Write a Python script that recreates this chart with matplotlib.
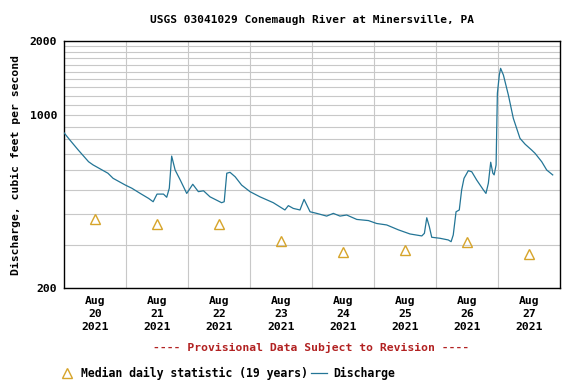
import numpy as np
import pandas as pd
import matplotlib
matplotlib.use("Agg")
import matplotlib.pyplot as plt

# Discharge (cfs)
flow_times = [
    "2021-08-20 00:00", "2021-08-20 02:15", "2021-08-20 05:30", "2021-08-20 09:30",
    "2021-08-20 11:15", "2021-08-20 17:00", "2021-08-20 19:00", "2021-08-20 23:45",
    "2021-08-21 02:15", "2021-08-21 05:30", "2021-08-21 08:45", "2021-08-21 10:30",
    "2021-08-21 12:00", "2021-08-21 14:30", "2021-08-21 15:45", "2021-08-21 16:45",
    "2021-08-21 17:40", "2021-08-21 19:00", "2021-08-21 21:00", "2021-08-21 23:30",
    "2021-08-22 01:50", "2021-08-22 04:00", "2021-08-22 06:00", "2021-08-22 08:30",
    "2021-08-22 13:00", "2021-08-22 14:00", "2021-08-22 15:00", "2021-08-22 16:15",
    "2021-08-22 18:15", "2021-08-22 20:45", "2021-08-23 00:00", "2021-08-23 03:50",
    "2021-08-23 09:00", "2021-08-23 13:30", "2021-08-23 14:50", "2021-08-23 16:45",
    "2021-08-23 19:20", "2021-08-23 20:55", "2021-08-23 23:15", "2021-08-24 01:50",
    "2021-08-24 05:40", "2021-08-24 08:15", "2021-08-24 10:50", "2021-08-24 13:25",
    "2021-08-24 17:20", "2021-08-24 21:50", "2021-08-25 01:00", "2021-08-25 04:55",
    "2021-08-25 09:25", "2021-08-25 13:55", "2021-08-25 18:30", "2021-08-25 19:30",
    "2021-08-25 20:25", "2021-08-25 21:25", "2021-08-25 22:20", "2021-08-26 01:30",
    "2021-08-26 04:45", "2021-08-26 05:50", "2021-08-26 06:40", "2021-08-26 07:45",
    "2021-08-26 09:00", "2021-08-26 09:55", "2021-08-26 10:50", "2021-08-26 12:30",
    "2021-08-26 13:50", "2021-08-26 15:45", "2021-08-26 18:20", "2021-08-26 19:20",
    "2021-08-26 20:15", "2021-08-26 21:10", "2021-08-26 22:00", "2021-08-26 22:30",
    "2021-08-26 23:15", "2021-08-26 23:45", "2021-08-27 00:30", "2021-08-27 01:00",
    "2021-08-27 02:05", "2021-08-27 04:00", "2021-08-27 05:55", "2021-08-27 08:30",
    "2021-08-27 10:30", "2021-08-27 13:00", "2021-08-27 14:20", "2021-08-27 16:55",
    "2021-08-27 18:50", "2021-08-27 21:10",
]
flow_cfs = [
    850, 795, 724, 649, 630, 583, 556, 522,
    507, 483, 461, 447, 480, 480, 466, 507,
    684, 601, 547, 483, 526, 491, 495, 468,
    443, 447, 583, 588, 564, 522, 491, 468,
    443, 414, 431, 420, 414, 457, 407, 401,
    391, 401, 391, 395, 379, 375, 365, 360,
    344, 331, 325, 333, 385, 354, 321, 318,
    313, 308, 328, 407, 414, 499, 556, 597,
    591, 547, 499, 483, 531, 646, 583, 574,
    630, 1228, 1456, 1550, 1456, 1209, 973, 807,
    764, 724, 702, 649, 601, 574,
]

# Median daily statistic (19 years), plotted at noon
median_days = ["2021-08-20", "2021-08-21", "2021-08-22", "2021-08-23",
               "2021-08-24", "2021-08-25", "2021-08-26", "2021-08-27"]
median_cfs = [381, 363, 363, 310, 280, 285, 307, 275]

t = pd.to_datetime(flow_times)
days = pd.to_datetime(median_days)
noon = days + pd.Timedelta(hours=12)

mono = "DejaVu Sans Mono"
fig = plt.figure(figsize=(5.81, 3.90), dpi=100)
ax = fig.add_axes([0.1102, 0.2615, 0.8537, 0.6334])

ax.plot(t, flow_cfs, color="#237596", lw=0.9, label="Discharge", zorder=3)
ax.plot(noon, median_cfs, ls="none", marker="^", ms=7.5, mfc="none",
        mec="#d6a42a", mew=1.0, label="Median daily statistic (19 years)", zorder=3)

ax.set_yscale("log")
ax.set_ylim(200, 2000)
ax.set_yticks([200, 1000, 2000])
ax.set_yticklabels(["200", "1000", "2000"])
ax.set_yticks(np.arange(300, 2000, 100), minor=True)
ax.yaxis.set_minor_formatter(plt.NullFormatter())

ax.set_xlim(days[0], days[-1] + pd.Timedelta(days=1))
ax.set_xticks(noon)
ax.set_xticklabels([f"{d:%b}\n{d.day}\n{d:%Y}" for d in days])
ax.set_xticks(days[1:], minor=True)

ax.grid(which="minor", axis="both", color="#c8c8c8", lw=0.8)
ax.grid(which="major", axis="y", color="#c8c8c8", lw=0.8)
ax.tick_params(which="both", length=0)
ax.tick_params(axis="x", pad=6)
ax.tick_params(axis="y", pad=5)
for lab in ax.get_xticklabels() + ax.get_yticklabels():
    lab.set_fontfamily(mono)
    lab.set_fontweight("bold")
    lab.set_fontsize(8.2)
    lab.set_linespacing(1.35)
for s in ax.spines.values():
    s.set_linewidth(1.0)
    s.set_color("black")

ax.set_title("USGS 03041029 Conemaugh River at Minersville, PA",
             fontfamily=mono, fontweight="bold", fontsize=8, pad=13)
ax.set_ylabel("Discharge, cubic feet per second",
              fontfamily=mono, fontweight="bold", fontsize=8.2, labelpad=6)

fig.text(0.535, 0.11, "---- Provisional Data Subject to Revision ----",
         color="#b22222", ha="center", va="center",
         fontfamily=mono, fontweight="bold", fontsize=8.2)

h, l = ax.get_legend_handles_labels()
fig.legend(h[::-1], l[::-1], ncol=2, loc="center left",
           bbox_to_anchor=(0.101, 0.043), frameon=False,
           prop={"family": mono, "weight": "bold", "size": 8.3},
           handlelength=1.4, handletextpad=0.5, columnspacing=0.3,
           borderaxespad=0, borderpad=0)

fig.savefig("out.png", dpi=100)
